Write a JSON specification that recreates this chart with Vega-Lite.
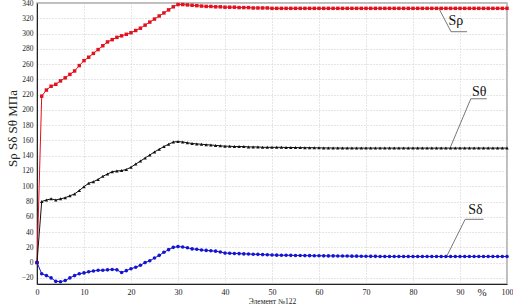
{
  "$schema": "https://vega.github.io/schema/vega-lite/v6.json",
  "width": 470,
  "height": 281,
  "autosize": "none",
  "padding": {"left": 37, "top": 3, "right": 6, "bottom": 23},
  "background": "white",
  "config": {
    "view": {"stroke": "#a8a8a8", "strokeWidth": 1.5},
    "font": "Liberation Serif",
    "axis": {"labelFont": "Liberation Serif", "titleFont": "Liberation Serif", "labelColor": "#222", "titleColor": "#222",
             "labelOverlap": false, "labelFlush": false, "ticks": false, "labelPadding": 4,
             "domainColor": "#222", "domainWidth": 1,
             "grid": true, "gridColor": "#cccccc", "gridDash": [1, 2], "gridWidth": 1},
    "axisX": {"labelFontSize": 8},
    "axisY": {"labelFontSize": 7.5}
  },
  "datasets": {
    "main": [
      {"x":0,"rho":0,"theta":0,"delta":0},
      {"x":1,"rho":218,"theta":80,"delta":-14.5},
      {"x":2,"rho":226,"theta":82,"delta":-17},
      {"x":3,"rho":231,"theta":83.5,"delta":-20},
      {"x":4,"rho":233.5,"theta":82,"delta":-24.5},
      {"x":5,"rho":238,"theta":83.5,"delta":-25},
      {"x":6,"rho":242,"theta":85,"delta":-23.5},
      {"x":7,"rho":246.5,"theta":87.5,"delta":-20},
      {"x":8,"rho":251,"theta":90,"delta":-17},
      {"x":9,"rho":258,"theta":94.5,"delta":-14.5},
      {"x":10,"rho":264.5,"theta":99.5,"delta":-13.5},
      {"x":11,"rho":269,"theta":104,"delta":-12},
      {"x":12,"rho":274,"theta":106,"delta":-11},
      {"x":13,"rho":279,"theta":109,"delta":-10},
      {"x":14,"rho":284,"theta":113,"delta":-10},
      {"x":15,"rho":289,"theta":116,"delta":-9.5},
      {"x":16,"rho":292,"theta":119,"delta":-9},
      {"x":17,"rho":295,"theta":120,"delta":-9.5},
      {"x":18,"rho":297,"theta":120.5,"delta":-13},
      {"x":19,"rho":299,"theta":122,"delta":-10.5},
      {"x":20,"rho":301,"theta":125,"delta":-8},
      {"x":21,"rho":304,"theta":129,"delta":-6},
      {"x":22,"rho":307,"theta":133,"delta":-3.5},
      {"x":23,"rho":311,"theta":137,"delta":0},
      {"x":24,"rho":315,"theta":141,"delta":2.5},
      {"x":25,"rho":319,"theta":145,"delta":6},
      {"x":26,"rho":323,"theta":148.5,"delta":9.5},
      {"x":27,"rho":327,"theta":152,"delta":13.5},
      {"x":28,"rho":331,"theta":155,"delta":17},
      {"x":29,"rho":335,"theta":158,"delta":20},
      {"x":30,"rho":338,"theta":158.5,"delta":21},
      {"x":31,"rho":338,"theta":158,"delta":20.5},
      {"x":32,"rho":337.5,"theta":157,"delta":19.5},
      {"x":33,"rho":337,"theta":156,"delta":18},
      {"x":34,"rho":336.5,"theta":155.5,"delta":17.5},
      {"x":35,"rho":336,"theta":155,"delta":16.5},
      {"x":36,"rho":335.5,"theta":154.5,"delta":16},
      {"x":37,"rho":335.5,"theta":154,"delta":15.5},
      {"x":38,"rho":335,"theta":153.5,"delta":15},
      {"x":39,"rho":335,"theta":153,"delta":14},
      {"x":40,"rho":334.5,"theta":152.5,"delta":12.5},
      {"x":41,"rho":334.5,"theta":152.5,"delta":12.3},
      {"x":42,"rho":334.5,"theta":152,"delta":12},
      {"x":43,"rho":334,"theta":152,"delta":11.8},
      {"x":44,"rho":334,"theta":152,"delta":11.5},
      {"x":45,"rho":334,"theta":151.5,"delta":11.3},
      {"x":46,"rho":333.5,"theta":151.5,"delta":11},
      {"x":47,"rho":333.5,"theta":151.5,"delta":10.8},
      {"x":48,"rho":333.5,"theta":151,"delta":10.5},
      {"x":49,"rho":333.5,"theta":151,"delta":10.3},
      {"x":50,"rho":333,"theta":151,"delta":10},
      {"x":51,"rho":333,"theta":151,"delta":9.8},
      {"x":52,"rho":333,"theta":151,"delta":9.7},
      {"x":53,"rho":333,"theta":150.8,"delta":9.6},
      {"x":54,"rho":333,"theta":150.8,"delta":9.5},
      {"x":55,"rho":333,"theta":150.7,"delta":9.4},
      {"x":56,"rho":333,"theta":150.6,"delta":9.3},
      {"x":57,"rho":333,"theta":150.5,"delta":9.2},
      {"x":58,"rho":333,"theta":150.5,"delta":9.1},
      {"x":59,"rho":333,"theta":150.4,"delta":9},
      {"x":60,"rho":333,"theta":150.3,"delta":9},
      {"x":61,"rho":333,"theta":150.2,"delta":8.9},
      {"x":62,"rho":333,"theta":150.2,"delta":8.8},
      {"x":63,"rho":333,"theta":150.1,"delta":8.8},
      {"x":64,"rho":333,"theta":150.1,"delta":8.7},
      {"x":65,"rho":333,"theta":150,"delta":8.6},
      {"x":66,"rho":333,"theta":150,"delta":8.6},
      {"x":67,"rho":333,"theta":150,"delta":8.5},
      {"x":68,"rho":333,"theta":150,"delta":8.5},
      {"x":69,"rho":333,"theta":150,"delta":8.4},
      {"x":70,"rho":333,"theta":150,"delta":8.3},
      {"x":71,"rho":333,"theta":150,"delta":8.2},
      {"x":72,"rho":333,"theta":150,"delta":8.2},
      {"x":73,"rho":333,"theta":150,"delta":8.1},
      {"x":74,"rho":333,"theta":150,"delta":8.1},
      {"x":75,"rho":333,"theta":150,"delta":8},
      {"x":76,"rho":333,"theta":150,"delta":8},
      {"x":77,"rho":333,"theta":150,"delta":8},
      {"x":78,"rho":333,"theta":150,"delta":8},
      {"x":79,"rho":333,"theta":150,"delta":8},
      {"x":80,"rho":333,"theta":150,"delta":8},
      {"x":81,"rho":333,"theta":150,"delta":8},
      {"x":82,"rho":333,"theta":150,"delta":8},
      {"x":83,"rho":333,"theta":150,"delta":8},
      {"x":84,"rho":333,"theta":150,"delta":8},
      {"x":85,"rho":333,"theta":150,"delta":8},
      {"x":86,"rho":333,"theta":150,"delta":8},
      {"x":87,"rho":333,"theta":150,"delta":8},
      {"x":88,"rho":333,"theta":150,"delta":8},
      {"x":89,"rho":333,"theta":150,"delta":8},
      {"x":90,"rho":333,"theta":150,"delta":8},
      {"x":91,"rho":333,"theta":150,"delta":8},
      {"x":92,"rho":333,"theta":150,"delta":8},
      {"x":93,"rho":333,"theta":150,"delta":8},
      {"x":94,"rho":333,"theta":150,"delta":8},
      {"x":95,"rho":333,"theta":150,"delta":8},
      {"x":96,"rho":333,"theta":150,"delta":8},
      {"x":97,"rho":333,"theta":150,"delta":8},
      {"x":98,"rho":333,"theta":150,"delta":8},
      {"x":99,"rho":333,"theta":150,"delta":8},
      {"x":100,"rho":333,"theta":150,"delta":8}
    ],
    "leaders": [
      {"xa":85.6,"ya":331.7,"xb":88.1,"yb":302.4},
      {"xa":88.1,"ya":302.4,"xb":91.5,"yb":302.4},
      {"xa":88.0,"ya":151.8,"xb":92.3,"yb":214.6},
      {"xa":92.3,"ya":214.6,"xb":95.7,"yb":214.6},
      {"xa":87.2,"ya":8.6,"xb":91.1,"yb":56.7},
      {"xa":91.1,"ya":56.7,"xb":95.0,"yb":56.7}
    ],
    "labels": [
      {"x":89.1,"y":316.4,"label":"Sρ"},
      {"x":94.1,"y":223.4,"label":"Sθ"},
      {"x":93.3,"y":68.9,"label":"Sδ"}
    ],
    "unit": [
      {"x":94.7,"y":-28,"label":"%"}
    ]
  },
  "encoding": {
    "x": {"field": "x", "type": "quantitative",
          "scale": {"domain": [0, 100], "nice": false},
          "axis": {"values": [0,10,20,30,40,50,60,70,80,90,100], "tickCount": 20, "title": "Элемент №122",
                   "titleFontSize": 7.5, "titleFontWeight": "normal", "titlePadding": 1}}
  },
  "layer": [
    {
      "data": {"name": "main"},
      "mark": {"type": "line", "color": "#e3101e", "strokeWidth": 1,
               "point": {"shape": "square", "size": 12, "filled": true, "color": "#e3101e"}},
      "encoding": {
        "y": {"field": "rho", "type": "quantitative",
              "scale": {"domain": [-28, 340], "nice": false, "zero": false},
              "axis": {"values": [-20,0,20,40,60,80,100,120,140,160,180,200,220,240,260,280,300,320,340],
                       "tickCount": 40,
                       "title": "Sρ Sδ Sθ МПа", "titleFontSize": 13, "titleFontWeight": "normal",
                       "titleX": -25, "titleY": 125, "titleAngle": -90, "titleBaseline": "middle", "titleAlign": "center"}}
      }
    },
    {
      "data": {"name": "main"},
      "mark": {"type": "line", "color": "#111111", "strokeWidth": 1,
               "point": {"shape": "triangle-up", "size": 12, "filled": true, "color": "#111111"}},
      "encoding": {
        "y": {"field": "theta", "type": "quantitative"}
      }
    },
    {
      "data": {"name": "main"},
      "mark": {"type": "line", "color": "#1414d2", "strokeWidth": 1,
               "point": {"shape": "circle", "size": 13, "filled": true, "color": "#1414d2"}},
      "encoding": {
        "y": {"field": "delta", "type": "quantitative"}
      }
    },
    {
      "data": {"name": "leaders"},
      "mark": {"type": "rule", "color": "#555555", "strokeWidth": 0.8},
      "encoding": {
        "x": {"field": "xa", "type": "quantitative"},
        "y": {"field": "ya", "type": "quantitative"},
        "x2": {"field": "xb"},
        "y2": {"field": "yb"}
      }
    },
    {
      "data": {"name": "labels"},
      "mark": {"type": "text", "font": "Liberation Serif", "fontSize": 14, "color": "#111111", "baseline": "middle", "align": "center"},
      "encoding": {
        "y": {"field": "y", "type": "quantitative"},
        "text": {"field": "label"}
      }
    },
    {
      "data": {"name": "unit"},
      "mark": {"type": "text", "font": "Liberation Serif", "fontSize": 11, "color": "#222222", "baseline": "middle", "align": "center", "dy": 9},
      "encoding": {
        "y": {"field": "y", "type": "quantitative"},
        "text": {"field": "label"}
      }
    }
  ]
}
